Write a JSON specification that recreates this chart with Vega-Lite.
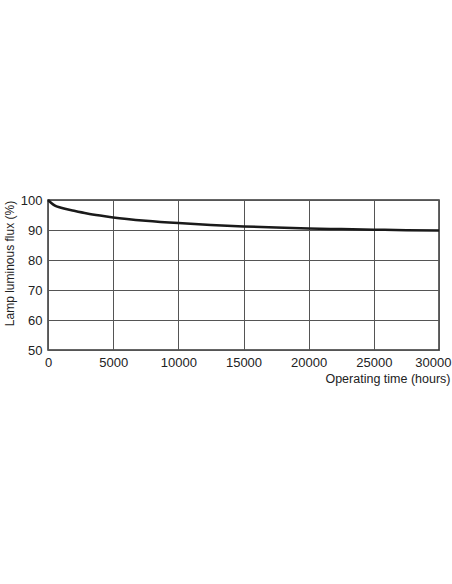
{
  "$schema": "https://vega.github.io/schema/vega-lite/v6.json",
  "width": 391,
  "height": 150,
  "autosize": "none",
  "padding": {"left": 48, "top": 200, "right": 13, "bottom": 234},
  "background": "white",
  "config": {
    "font": "Liberation Sans",
    "view": {"stroke": "#333", "strokeWidth": 1.5}
  },
  "data": {
    "values": [
      {"hours": 0, "flux": 100},
      {"hours": 250, "flux": 99.0},
      {"hours": 500, "flux": 98.2},
      {"hours": 1000, "flux": 97.4},
      {"hours": 2000, "flux": 96.4},
      {"hours": 3000, "flux": 95.5},
      {"hours": 4000, "flux": 94.8},
      {"hours": 5000, "flux": 94.2},
      {"hours": 7500, "flux": 93.1},
      {"hours": 10000, "flux": 92.3},
      {"hours": 12500, "flux": 91.7},
      {"hours": 15000, "flux": 91.2},
      {"hours": 17500, "flux": 90.8},
      {"hours": 20000, "flux": 90.5},
      {"hours": 22500, "flux": 90.3},
      {"hours": 25000, "flux": 90.1},
      {"hours": 27500, "flux": 89.95},
      {"hours": 30000, "flux": 89.8}
    ]
  },
  "mark": {"type": "line", "color": "#1a1a1a", "strokeWidth": 2.5, "interpolate": "monotone"},
  "encoding": {
    "x": {
      "field": "hours",
      "type": "quantitative",
      "scale": {"domain": [0, 30000], "nice": false},
      "axis": {
        "values": [0, 5000, 10000, 15000, 20000, 25000, 30000],
        "format": "d",
        "title": "Operating time (hours)",
        "titleFont": "Liberation Sans",
        "titleFontSize": 12.5,
        "titleFontWeight": "normal",
        "titleColor": "#222",
        "titleAnchor": "end",
        "titleAlign": "right",
        "titleX": 402,
        "titleY": 28,
        "titleBaseline": "middle",
        "labelFontSize": 13,
        "labelColor": "#222",
        "labelPadding": 6,
        "labelAlign": {"condition": {"test": "datum.value === 30000", "value": "right"}, "value": "center"},
        "labelOffset": {"condition": {"test": "datum.value === 30000", "value": 12}, "value": 0},
        "tickSize": 0,
        "domain": false,
        "gridColor": "#555",
        "gridWidth": 1,
        "gridOpacity": 1,
        "labelFlush": false,
        "labelBound": false
      }
    },
    "y": {
      "field": "flux",
      "type": "quantitative",
      "scale": {"domain": [50, 100], "nice": false},
      "axis": {
        "values": [50, 60, 70, 80, 90, 100],
        "title": "Lamp luminous flux (%)",
        "titleFont": "Liberation Sans",
        "titleFontSize": 12,
        "titleFontWeight": "normal",
        "titleColor": "#222",
        "titleAnchor": "start",
        "titleX": -39,
        "titleY": 63,
        "titleAlign": "center",
        "titleBaseline": "middle",
        "labelFontSize": 13,
        "labelColor": "#222",
        "labelPadding": 6,
        "tickSize": 0,
        "domain": false,
        "gridColor": "#555",
        "gridWidth": 1,
        "gridOpacity": 1
      }
    }
  }
}
